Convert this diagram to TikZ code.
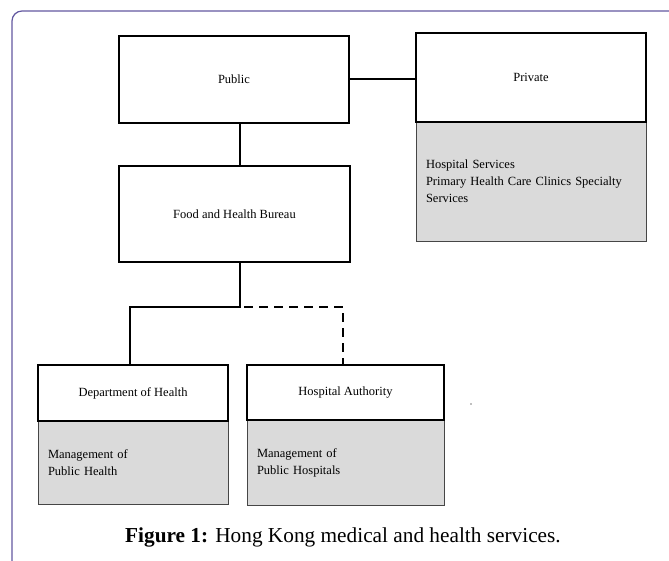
\documentclass[tikz,border=0pt]{standalone}
\usepackage{fontspec}
\setmainfont{Liberation Serif}
\usetikzlibrary{positioning}
\definecolor{framepurple}{RGB}{98,88,160}
\definecolor{bodygrey}{RGB}{218,218,218}
\definecolor{bodyedge}{RGB}{70,70,70}

\begin{document}
\begin{tikzpicture}[x=1pt, y=-1pt,
    headbox/.style={draw, line width=2pt, fill=white, inner sep=0pt, outer sep=0pt,
        font=\fontsize{12.5}{15}\selectfont},
    bodybox/.style={draw=bodyedge, line width=1pt, fill=bodygrey, align=left,
        inner xsep=10pt, inner ysep=0pt, outer sep=0pt, font=\fontsize{12.5}{17}\selectfont},
    link/.style={line width=2.2pt},
    looselink/.style={line width=2.2pt, dash pattern=on 9pt off 6pt, dash phase=-4pt}
]

    \useasboundingbox (0,0) rectangle (669,560);

    % --- Page frame ---
    \draw[framepurple, line width=1.2pt, rounded corners=10pt] (12,580) -- (12,11) -- (690,11);

    % --- Top level ---
    \node[headbox, minimum width=230pt, minimum height=87pt] (pub) at (234,79) {Public};

    \node[bodybox, text width=210pt, minimum width=230pt, minimum height=119pt] (privbody) at (531,181.5)
        {Hospital Services\\Primary Health Care Clinics Specialty\\Services};
    \node[headbox, minimum width=230pt, minimum height=89pt, above=0pt of privbody] (priv) {Private};

    % --- Bureau ---
    \node[headbox, minimum width=231pt, minimum height=96pt] (food) at (234.5,214) {Food and Health Bureau};

    % --- Departments ---
    \node[bodybox, text width=170pt, minimum width=190pt, minimum height=83pt] (dohbody) at (133,462.5)
        {Management of\\Public Health};
    \node[headbox, minimum width=190pt, minimum height=56pt, above=0pt of dohbody] (doh) {Department of Health};

    \node[bodybox, text width=177pt, minimum width=197pt, minimum height=85pt] (habody) at (345.5,462.5)
        {Management of\\Public Hospitals};
    \node[headbox, minimum width=197pt, minimum height=55pt, above=0pt of habody] (ha) {Hospital Authority};

    % --- Connectors ---
    \coordinate (trunk) at (240,307);
    \draw[link] (pub.east) -- (pub.east -| priv.west);
    \draw[link] (pub.south -| trunk) -- (food.north -| trunk);
    \draw[link] (food.south -| trunk) -- (trunk) -| ([xshift=-3pt]doh.north);
    \draw[looselink] (trunk) -| ([xshift=-2.5pt]ha.north);

    % stray speck
    \fill[gray] (471,404) circle (0.9pt);

    % --- Caption ---
    \node[anchor=base, font=\fontsize{21.3}{24}\selectfont] (caption) at (343,542)
        {\textbf{Figure 1:} Hong Kong medical and health services.};

\end{tikzpicture}
\end{document}
